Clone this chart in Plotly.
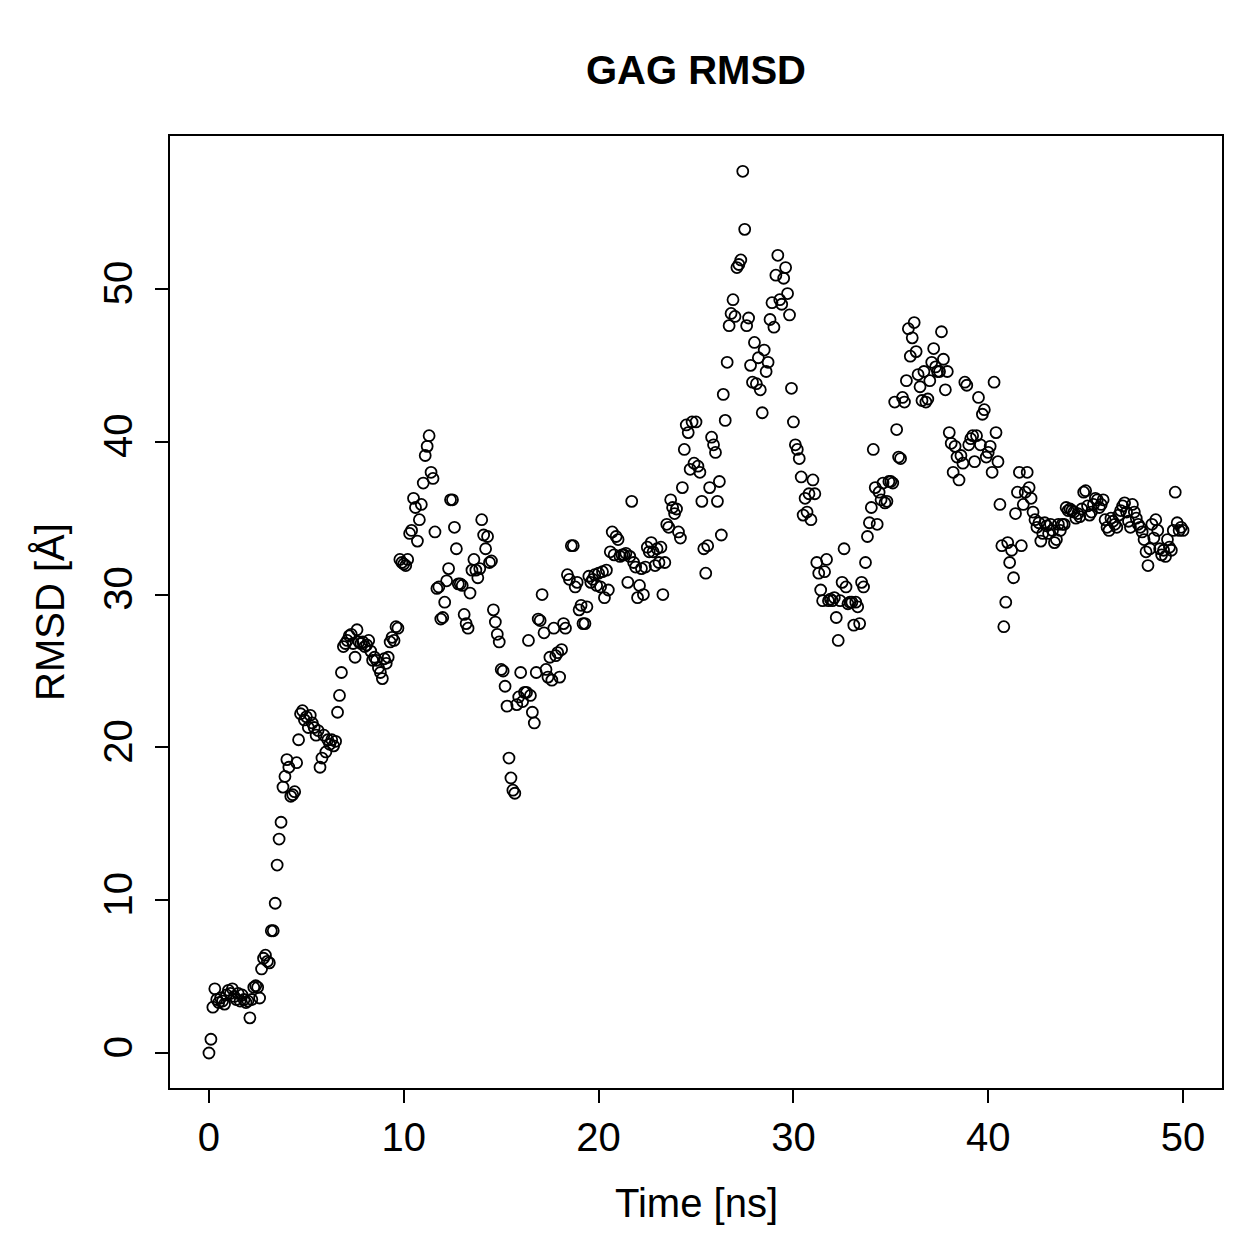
import plotly.graph_objects as go

# RMSD values (Å), one frame every 0.1 ns from 0 to 50 ns
rmsd_chunks = [
    [0.0, 0.9, 3.0, 4.2, 3.5, 3.3, 3.6, 3.4, 3.2, 3.8],
    [4.1, 3.9, 4.2, 3.7, 3.5, 3.9, 3.4, 3.8, 3.5, 3.3],
    [3.4, 2.3, 3.5, 4.3, 4.4, 4.3, 3.6, 5.5, 6.2, 6.4],
    [6.0, 5.9, 8.0, 8.0, 9.8, 12.3, 14.0, 15.1, 17.4, 18.1],
    [19.2, 18.7, 16.8, 16.9, 17.1, 19.0, 20.5, 22.2, 22.4, 21.8],
    [22.0, 21.3, 22.1, 21.6, 21.3, 20.8, 21.1, 18.7, 19.3, 20.8],
    [19.7, 20.5, 20.2, 20.5, 20.1, 20.4, 22.3, 23.4, 24.9, 26.6],
    [26.8, 27.0, 27.3, 27.4, 26.8, 25.9, 27.7, 26.9, 26.8, 26.9],
    [26.6, 26.7, 27.0, 26.3, 25.7, 25.9, 25.7, 25.2, 24.9, 24.5],
    [25.8, 25.5, 25.9, 26.9, 27.2, 27.0, 27.9, 27.8, 32.3, 32.1],
    [32.0, 31.9, 32.3, 34.0, 34.2, 36.3, 35.7, 33.5, 34.9, 35.9],
    [37.3, 39.1, 39.7, 40.4, 38.0, 37.6, 34.1, 30.4, 30.5, 28.4],
    [28.5, 29.5, 30.9, 31.7, 36.2, 36.2, 34.4, 33.0, 30.7, 30.7],
    [30.6, 28.7, 28.1, 27.8, 30.1, 31.6, 32.3, 31.6, 31.1, 31.7],
    [34.9, 33.9, 33.0, 33.8, 32.1, 32.2, 29.0, 28.2, 27.4, 26.9],
    [25.1, 25.0, 24.0, 22.7, 19.3, 18.0, 17.2, 17.0, 22.8, 23.3],
    [24.9, 23.0, 23.6, 23.6, 27.0, 23.4, 22.3, 21.6, 24.9, 28.4],
    [28.3, 30.0, 27.5, 25.1, 24.6, 25.9, 24.4, 27.8, 26.0, 26.2],
    [24.6, 26.4, 28.1, 27.8, 31.3, 31.0, 33.2, 33.2, 30.5, 30.8],
    [29.0, 29.3, 28.1, 28.1, 29.2, 31.2, 30.8, 31.0, 31.3, 30.6],
    [31.4, 30.5, 31.5, 29.8, 31.6, 30.3, 32.8, 34.1, 32.6, 33.8],
    [33.6, 32.5, 32.6, 32.6, 32.7, 30.8, 32.5, 36.1, 32.1, 31.8],
    [29.8, 30.6, 31.7, 30.0, 31.8, 33.1, 32.8, 33.4, 32.8, 31.9],
    [33.0, 32.1, 33.1, 30.0, 32.1, 34.6, 34.4, 36.2, 35.7, 35.3],
    [35.6, 34.1, 33.7, 37.0, 39.5, 41.1, 40.6, 38.2, 41.3, 38.6],
    [41.3, 38.4, 38.0, 36.1, 33.0, 31.4, 33.2, 37.0, 40.3, 39.8],
    [39.3, 36.1, 37.4, 33.9, 43.1, 41.4, 45.2, 47.6, 48.4, 49.3],
    [48.2, 51.4, 51.6, 51.9, 57.7, 53.9, 47.6, 48.1, 45.0, 43.9],
    [46.5, 43.8, 45.5, 43.4, 41.9, 46.0, 44.6, 45.2, 48.0, 49.1],
    [47.5, 50.9, 52.2, 49.3, 49.0, 50.7, 51.4, 49.7, 48.3, 43.5],
    [41.3, 39.8, 39.5, 38.9, 37.7, 35.2, 36.3, 35.4, 36.6, 34.9],
    [37.5, 36.6, 32.1, 31.4, 30.3, 29.6, 31.5, 32.3, 29.6, 29.7],
    [29.6, 29.8, 28.5, 27.0, 29.6, 30.8, 33.0, 30.5, 29.4, 29.5],
    [29.5, 28.0, 29.5, 29.2, 28.1, 30.8, 30.5, 32.1, 33.8, 34.7],
    [35.7, 39.5, 37.0, 34.6, 36.7, 36.2, 37.3, 36.0, 36.1, 37.4],
    [37.4, 37.3, 42.6, 40.8, 39.0, 38.9, 42.9, 42.6, 44.0, 47.4],
    [45.6, 46.8, 47.8, 45.9, 44.4, 43.6, 42.7, 44.6, 42.6, 42.8],
    [44.0, 45.2, 46.1, 44.9, 44.6, 44.6, 47.2, 45.4, 43.4, 44.6],
    [40.6, 39.9, 38.0, 39.7, 39.0, 37.5, 39.1, 38.6, 43.9, 43.7],
    [39.8, 40.2, 40.4, 38.7, 40.4, 42.9, 39.8, 41.8, 42.1, 39.0],
    [39.3, 39.7, 38.0, 43.9, 40.6, 38.7, 35.9, 33.2, 27.9, 29.5],
    [33.4, 32.1, 32.9, 31.1, 35.3, 36.7, 38.0, 33.2, 35.9, 36.7],
    [38.0, 37.0, 36.3, 35.4, 34.9, 34.4, 34.7, 33.5, 34.0, 34.7],
    [34.5, 34.0, 34.6, 34.2, 33.4, 33.6, 34.6, 34.2, 34.6, 34.6],
    [35.7, 35.5, 35.6, 35.5, 35.4, 35.0, 35.3, 35.1, 35.6, 36.7],
    [36.8, 35.8, 35.2, 35.4, 35.9, 36.3, 36.2, 35.7, 35.9, 36.2],
    [34.9, 34.4, 34.2, 35.0, 34.8, 34.6, 34.4, 35.2, 35.5, 35.8],
    [36.0, 35.4, 34.8, 34.4, 35.9, 35.4, 35.0, 34.6, 34.4, 34.1],
    [33.6, 32.8, 31.9, 33.0, 34.6, 33.7, 34.9, 34.2, 33.0, 32.6],
    [32.9, 32.5, 33.6, 33.1, 32.9, 34.2, 36.7, 34.7, 34.2, 34.4],
    [34.2],
]
rmsd = [v for chunk in rmsd_chunks for v in chunk]
time_ns = [round(i * 0.1, 1) for i in range(len(rmsd))]

x_ticks = [0, 10, 20, 30, 40, 50]
y_ticks = [0, 10, 20, 30, 40, 50]

FONT = "Liberation Sans, Arial, Helvetica, sans-serif"
FS = 40

fig = go.Figure()
fig.add_trace(go.Scatter(
    x=time_ns, y=rmsd, mode="markers",
    marker=dict(symbol="circle-open", size=11, color="black",
                line=dict(color="black", width=1.8)),
    showlegend=False, hoverinfo="x+y",
))

W, H = 1259, 1259
L, R, T, B = 170, 1222, 136, 1088
pw, ph = R - L, B - T

axis_common = dict(
    showgrid=False, zeroline=False, showline=True, linecolor="black",
    linewidth=2, mirror=True, ticks="outside", ticklen=13, tickwidth=2,
    tickcolor="black", tickfont=dict(family=FONT, size=FS, color="black"),
)
fig.update_xaxes(range=[-2, 52], tickvals=x_ticks, ticklabelstandoff=0, **axis_common)
fig.update_yaxes(range=[-2.29, 60.01], tickvals=y_ticks, tickangle=-90,
                 ticklabelstandoff=7, **axis_common)

fig.update_layout(
    width=W, height=H,
    margin=dict(l=L, r=W - R, t=T, b=H - B),
    plot_bgcolor="white", paper_bgcolor="white",
    font=dict(family=FONT, size=FS, color="black"),
    annotations=[
        dict(text="<b>GAG RMSD</b>", xref="paper", yref="paper",
             x=0.5, y=(B - 70) / ph, xanchor="center", yanchor="middle",
             showarrow=False, font=dict(family=FONT, size=FS, color="black")),
        dict(text="Time [ns]", xref="paper", yref="paper",
             x=0.5, y=(B - 1203) / ph, xanchor="center", yanchor="middle",
             showarrow=False, font=dict(family=FONT, size=FS, color="black")),
        dict(text="RMSD [Å]", xref="paper", yref="paper",
             x=(50 - L) / pw, y=(B - 612) / ph, xanchor="center", yanchor="middle",
             textangle=-90, showarrow=False,
             font=dict(family=FONT, size=FS, color="black")),
    ],
)

fig.write_html("out.html")
